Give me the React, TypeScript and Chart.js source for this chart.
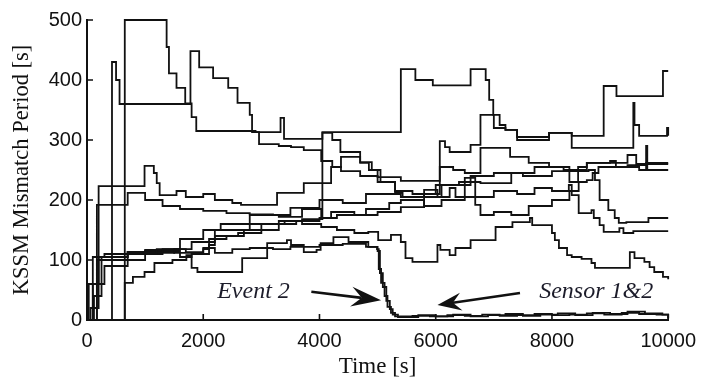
import React, { useEffect, useRef } from "react";
import { Chart, registerables } from "chart.js";

Chart.register(...registerables);

// ---------- data (time [s], mismatch period [s]) ----------
const xTicks = [0, 2000, 4000, 6000, 8000, 10000];
const yTicks = [0, 100, 200, 300, 400, 500];

type P = [number, number];

const line1: P[] = [[0,0],[120,40],[250,100],[700,110],[1200,118],[1800,130],[2200,150],[2800,160],[3300,165],[3700,168],[4050,313],[5400,418],[5650,400],[5950,391],[6600,418],[6860,400],[6920,367],[6990,342],[7100,325],[7200,317],[7400,305],[7950,312],[8340,307],[8890,390],[9110,373],[9910,415],[10000,415]];

const line2: P[] = [[0,0],[650,500],[1370,455],[1410,411],[1540,387],[1690,361],[1800,338],[1880,315],[2900,313],[3330,337],[3390,302],[4050,312],[4220,300],[4360,280],[4700,263],[4900,250],[5050,230],[5300,215],[5600,210],[6070,298],[6160,288],[6240,280],[6600,292],[6770,342],[7000,320],[7200,317],[7400,300],[7950,312],[8340,287],[9400,362],[9420,325],[9500,307],[9980,320],[10000,307]];

const line3: P[] = [[0,0],[430,430],[500,400],[560,360],[1780,448],[1930,421],[2170,403],[2430,387],[2590,362],[2800,342],[2840,313],[2960,293],[3300,290],[3510,288],[3730,283],[4030,265],[4220,255],[4370,248],[4700,240],[5000,238],[5400,232],[6070,255],[6300,250],[6500,245],[6770,287],[7280,272],[7600,262],[7950,255],[8300,230],[8450,255],[8600,262],[9000,265],[9100,262],[9300,275],[9450,260],[10000,260]];

const line4: P[] = [[0,0],[60,20],[200,223],[990,257],[1150,245],[1200,228],[1250,208],[1540,215],[1700,205],[2000,210],[2200,200],[2500,195],[2650,192],[3270,212],[3730,228],[4030,228],[4200,255],[4370,272],[4700,262],[4850,250],[5000,230],[5300,212],[5430,205],[5800,210],[6000,225],[6400,230],[6770,228],[7300,245],[7700,255],[8200,250],[8600,262],[9100,255],[9500,250],[9620,290],[9640,250],[10000,250]];

const line5: P[] = [[0,0],[100,105],[300,110],[700,113],[1300,118],[1600,135],[2000,150],[2300,160],[2800,175],[3300,172],[3700,187],[4000,200],[4400,195],[4800,210],[5400,205],[6100,225],[6600,240],[7000,245],[7500,240],[8000,248],[8630,250],[8740,233],[8820,200],[8970,183],[9080,170],[9150,162],[9280,163],[9660,170],[10000,170]];

const line6: P[] = [[0,0],[170,192],[700,212],[1000,200],[1300,190],[1600,185],[2000,182],[2400,178],[2800,176],[3200,175],[3500,187],[3700,185],[4030,170],[4300,175],[4800,185],[5200,195],[5400,200],[5800,190],[6100,200],[6500,205],[7000,215],[7400,210],[7700,220],[8000,215],[8290,225],[8340,208],[8460,178],[8680,183],[8720,170],[8820,158],[8890,147],[9160,153],[9230,145],[9400,148],[10000,148]];

const line7: P[] = [[0,0],[30,60],[170,100],[250,105],[700,113],[1000,117],[1200,112],[1500,118],[1700,113],[2000,118],[2100,135],[2400,140],[2700,150],[3000,160],[3400,165],[3700,160],[4030,155],[4300,150],[4600,145],[4840,147],[5010,133],[5230,142],[5400,130],[5480,103],[5600,97],[6030,125],[6080,117],[6240,108],[6340,120],[6600,133],[7030,155],[7320,163],[7620,170],[7660,158],[8000,145],[8050,133],[8120,120],[8260,108],[8340,105],[8510,102],[8680,95],[8740,87],[9340,113],[9420,103],[9590,97],[9680,88],[9760,80],[9910,72],[10000,68]];

const line8: P[] = [[0,0],[170,60],[300,90],[700,100],[1000,110],[1300,115],[1600,105],[1800,110],[2100,125],[2200,140],[2600,145],[3000,150],[3300,160],[3600,165],[4000,170],[4200,180],[4600,175],[5000,180],[5400,188],[5800,217],[6030,205],[6240,220],[6340,205],[6500,237],[6680,192],[6770,175],[7000,180],[7300,175],[7600,190],[8000,200],[8300,215],[8460,230],[8600,233],[8700,245],[8800,255],[9300,258],[9620,262],[10000,262]];

const sensor1: P[] = [[0,0],[650,62],[790,72],[990,80],[1160,95],[1470,100],[1710,108],[1800,87],[1900,80],[2670,103],[3100,128],[3440,133],[3510,125],[3730,113],[3950,117],[4020,128],[4240,138],[4500,130],[4840,122],[4990,118],[5020,85],[5060,62],[5120,40],[5170,22],[5230,12],[5300,6],[5600,7],[5900,6],[6200,8],[6500,7],[6800,9],[7100,7],[7400,8],[7700,10],[8000,8],[8300,9],[8600,11],[8900,9],[9200,12],[9500,10],[9800,9],[10000,2]];

const sensor2: P[] = [[0,0],[100,60],[200,105],[700,113],[1000,115],[1500,112],[2000,120],[2200,112],[2500,118],[2800,120],[3200,118],[3500,122],[4000,125],[4400,127],[4800,122],[5000,115],[5040,78],[5090,55],[5150,32],[5210,18],[5260,9],[5350,5],[5700,8],[6000,6],[6300,9],[6600,6],[6900,8],[7200,10],[7500,7],[7800,9],[8100,11],[8400,8],[8700,12],[9000,10],[9300,14],[9600,11],[9900,9],[10000,3]];

const allLines: P[][] = [line1, line2, line3, line4, line5, line6, line7, line8, sensor1, sensor2];

// annotations (data coordinates)
const eventLabel = "Event 2";
const eventTextAt: P = [2240, 48];
const eventArrow: P[] = [[3860, 47], [5060, 33]];
const sensorLabel = "Sensor 1&2";
const sensorTextAt: P = [7780, 47];
const sensorArrow: P[] = [[7450, 45], [6030, 25]];

const INK = "#111111";

function drawArrow(ctx: CanvasRenderingContext2D, x1: number, y1: number, x2: number, y2: number, headLen: number, headHalf: number) {
  const ang = Math.atan2(y2 - y1, x2 - x1);
  const ux = Math.cos(ang), uy = Math.sin(ang);
  const nx = -uy, ny = ux;
  const bx = x2 - ux * headLen, by = y2 - uy * headLen;
  const notchX = x2 - ux * headLen * 0.65, notchY = y2 - uy * headLen * 0.65;
  ctx.beginPath();
  ctx.moveTo(x1, y1);
  ctx.lineTo(notchX, notchY);
  ctx.lineWidth = 2.6;
  ctx.stroke();
  ctx.beginPath();
  ctx.moveTo(x2, y2);
  ctx.lineTo(bx + nx * headHalf, by + ny * headHalf);
  ctx.lineTo(notchX, notchY);
  ctx.lineTo(bx - nx * headHalf, by - ny * headHalf);
  ctx.closePath();
  ctx.fill();
}

const overlayPlugin = {
  id: "overlay",
  afterDatasetsDraw(chart: any) {
    const { ctx, chartArea, scales } = chart;
    const xs = scales.x, ys = scales.y;
    ctx.save();
    ctx.strokeStyle = INK;
    ctx.fillStyle = INK;
    ctx.lineWidth = 1.6;
    ctx.beginPath();
    xTicks.forEach((v) => {
      const px = xs.getPixelForValue(v);
      ctx.moveTo(px, chartArea.bottom);
      ctx.lineTo(px, chartArea.bottom - 6);
    });
    yTicks.forEach((v) => {
      const py = ys.getPixelForValue(v);
      ctx.moveTo(chartArea.left, py);
      ctx.lineTo(chartArea.left + 6, py);
    });
    ctx.stroke();

    ctx.font = 'italic 24px "Liberation Serif"';
    ctx.textBaseline = "middle";
    ctx.textAlign = "left";
    ctx.fillStyle = "#1c1c2a";
    ctx.fillText(eventLabel, xs.getPixelForValue(eventTextAt[0]), ys.getPixelForValue(eventTextAt[1]));
    ctx.fillText(sensorLabel, xs.getPixelForValue(sensorTextAt[0]), ys.getPixelForValue(sensorTextAt[1]));

    ctx.fillStyle = INK;
    drawArrow(ctx,
      xs.getPixelForValue(eventArrow[0][0]), ys.getPixelForValue(eventArrow[0][1]),
      xs.getPixelForValue(eventArrow[1][0]), ys.getPixelForValue(eventArrow[1][1]), 30, 10);
    drawArrow(ctx,
      xs.getPixelForValue(sensorArrow[0][0]), ys.getPixelForValue(sensorArrow[0][1]),
      xs.getPixelForValue(sensorArrow[1][0]), ys.getPixelForValue(sensorArrow[1][1]), 24, 9);
    ctx.restore();
  },
};

export default function App() {
  const canvasRef = useRef<HTMLCanvasElement | null>(null);

  useEffect(() => {
    document.body.style.margin = "0";
    const canvas = canvasRef.current;
    if (!canvas) return;
    const chart = new Chart(canvas, {
      type: "line",
      data: {
        datasets: allLines.map((pts) => ({
          data: pts.map(([x, y]) => ({ x, y })),
          borderColor: INK,
          borderWidth: 1.8,
          pointRadius: 0,
          stepped: true,
          fill: false,
          clip: false as any,
        })),
      },
      options: {
        responsive: false,
        animation: false,
        events: [],
        layout: { padding: { top: 20, right: 33, left: 0, bottom: 0 } },
        plugins: { legend: { display: false }, tooltip: { enabled: false } },
        scales: {
          x: {
            type: "linear",
            min: 0,
            max: 10000,
            grid: { display: false, drawTicks: false },
            border: { display: true, color: INK, width: 2 },
            ticks: {
              stepSize: 2000,
              padding: 9,
              color: INK,
              font: { family: '"Liberation Sans", Arial', size: 20 },
              maxRotation: 0,
              callback: (v: any) => String(v),
            },
            title: {
              display: true,
              text: "Time [s]",
              color: INK,
              font: { family: '"Liberation Serif", "Times New Roman"', size: 23 },
              padding: { top: 2, bottom: 0 },
            },
            afterFit: (scale: any) => { scale.height = 61; },
          },
          y: {
            min: 0,
            max: 500,
            grid: { display: false, drawTicks: false },
            border: { display: true, color: INK, width: 2 },
            ticks: {
              stepSize: 100,
              padding: 5,
              color: INK,
              font: { family: '"Liberation Sans", Arial', size: 20 },
              callback: (v: any) => String(v),
            },
            title: {
              display: true,
              text: "KSSM Mismatch Period [s]",
              color: INK,
              font: { family: '"Liberation Serif", "Times New Roman"', size: 22.5 },
              padding: { top: 9, bottom: 0 },
            },
            afterFit: (scale: any) => { scale.width = 87; },
          },
        },
      },
      plugins: [overlayPlugin],
    });
    return () => chart.destroy();
  }, []);

  return (
    <div style={{ position: "fixed", left: 0, top: 0, width: 705, height: 381, background: "#fff" }}>
      <canvas ref={canvasRef} width={705} height={381} style={{ display: "block" }} />
    </div>
  );
}
